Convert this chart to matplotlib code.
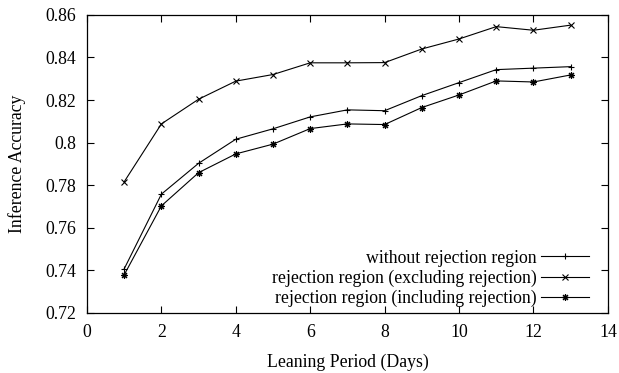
import numpy as np
import matplotlib.pyplot as plt

plt.rcParams['font.family'] = ['Liberation Serif', 'DejaVu Serif']

days = [1, 2, 3, 4, 5, 6, 7, 8, 9, 10, 11, 12, 13]
without_rejection = [0.7407, 0.7758, 0.7903, 0.8016, 0.8065, 0.8121, 0.8154,
                     0.8150, 0.8221, 0.8282, 0.8343, 0.8350, 0.8357]
excluding_rejection = [0.7816, 0.8088, 0.8204, 0.8289, 0.8320, 0.8375, 0.8375,
                       0.8376, 0.8440, 0.8487, 0.8545, 0.8528, 0.8552]
including_rejection = [0.7379, 0.7703, 0.7859, 0.7947, 0.7993, 0.8066, 0.8088,
                       0.8085, 0.8165, 0.8224, 0.8290, 0.8285, 0.8318]

x_ticks = [0, 2, 4, 6, 8, 10, 12, 14]
y_ticks = [0.72, 0.74, 0.76, 0.78, 0.80, 0.82, 0.84, 0.86]
y_tick_labels = ['0.72', '0.74', '0.76', '0.78', '0.8', '0.82', '0.84', '0.86']

fs = 12.8

fig = plt.figure(figsize=(6.19, 3.73), dpi=100)
ax = fig.add_axes([0.1405, 0.161, 0.8415, 0.799])

ax.plot(days, without_rejection, color='black', linewidth=0.8, marker='+',
        markersize=5, markeredgewidth=0.8, label='without rejection region')
ax.plot(days, excluding_rejection, color='black', linewidth=0.8, marker='x',
        markersize=4, markeredgewidth=0.8, label='rejection region (excluding rejection)')
ax.plot(days, including_rejection, color='black', linewidth=0.8, marker=(8, 2, 0),
        markersize=5, markeredgewidth=0.8, label='rejection region (including rejection)')

ax.set_xlim(0, 14)
ax.set_ylim(0.72, 0.86)
ax.set_xticks(x_ticks)
ax.set_yticks(y_ticks)
ax.set_yticklabels(y_tick_labels)
ax.tick_params(direction='in', top=True, right=True, length=5, width=0.8,
               labelsize=fs, pad=8)
for spine in ax.spines.values():
    spine.set_linewidth(0.9)

ax.set_xlabel('Leaning Period (Days)', fontsize=fs, labelpad=9)
ax.set_ylabel('Inference Accuracy', fontsize=fs, labelpad=14)

ax.legend(loc='lower right', bbox_to_anchor=(0.988, -0.023), frameon=False,
          markerfirst=False, fontsize=fs, handlelength=2.7, handletextpad=0.25,
          labelspacing=0.17, borderaxespad=0.3)
for text in ax.get_legend().get_texts():
    text.set_ha('right')

fig.savefig('out.png', dpi=100)
